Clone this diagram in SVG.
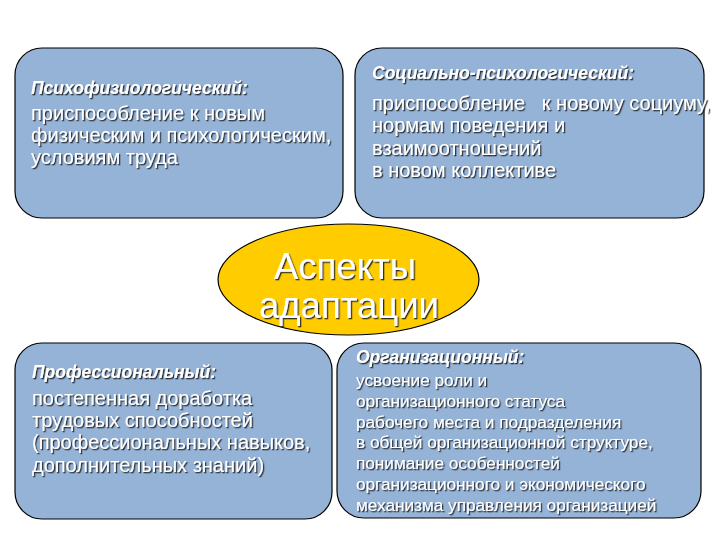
<svg xmlns="http://www.w3.org/2000/svg" width="720" height="540" viewBox="0 0 720 540">
<defs>
<filter id="sh" x="-5%" y="-20%" width="110%" height="150%">
<feDropShadow dx="1.3" dy="1.3" stdDeviation="0.3" flood-color="#1a1a1a" flood-opacity="0.9"/>
</filter>
</defs>
<style>
.box{fill:#95B3D7;stroke:#000;stroke-width:1.2}
.ell{fill:#FFCC00;stroke:#000;stroke-width:1.2}
text{font-family:"Liberation Sans",Arial,sans-serif;fill:#fff;filter:url(#sh)}
.t{font-weight:bold;font-style:italic;font-size:17.5px}
.b{font-size:20px}
.s{font-size:17.2px}
.big{font-size:36.5px;text-anchor:middle}
</style>
<rect width="720" height="540" fill="#fff"/>
<g id="connectors"></g>
<g id="node-psy">
<rect class="box" x="15" y="48" width="328" height="170" rx="27"/>
<text class="t" x="31" y="94">Психофизиологический:</text>
<text class="b" x="31" y="120">приспособление к новым</text>
<text class="b" x="31" y="142">физическим и психологическим,</text>
<text class="b" x="31" y="164">условиям труда</text>
</g>
<g id="node-soc">
<rect class="box" x="355" y="48" width="349" height="170" rx="27"/>
<text class="t" x="372" y="79">Социально-психологический:</text>
<text class="b" x="372" y="110" xml:space="preserve">приспособление   к новому социуму,</text>
<text class="b" x="372" y="132">нормам поведения и</text>
<text class="b" x="372" y="155">взаимоотношений</text>
<text class="b" x="372" y="177">в новом коллективе</text>
</g>
<g id="node-center">
<ellipse class="ell" cx="348.5" cy="279.5" rx="130.5" ry="55.5"/>
<text class="big" x="345" y="279">Аспекты</text>
<text class="big" x="349" y="318">адаптации</text>
</g>
<g id="node-prof">
<rect class="box" x="15" y="343" width="317" height="176" rx="27"/>
<text class="t" x="32" y="378">Профессиональный:</text>
<text class="b" x="32" y="405">постепенная доработка</text>
<text class="b" x="32" y="427">трудовых способностей</text>
<text class="b" x="32" y="449">(профессиональных навыков,</text>
<text class="b" x="32" y="472">дополнительных знаний)</text>
</g>
<g id="node-org">
<rect class="box" x="337" y="343" width="364" height="175" rx="27"/>
<text class="t" x="356" y="363">Организационный:</text>
<text class="s" x="356" y="386">усвоение роли и</text>
<text class="s" x="356" y="407">организационного статуса</text>
<text class="s" x="356" y="428">рабочего места и подразделения</text>
<text class="s" x="356" y="448">в общей организационной структуре,</text>
<text class="s" x="356" y="469">понимание особенностей</text>
<text class="s" x="356" y="490">организационного и экономического</text>
<text class="s" x="356" y="511">механизма управления организацией</text>
</g>
</svg>
